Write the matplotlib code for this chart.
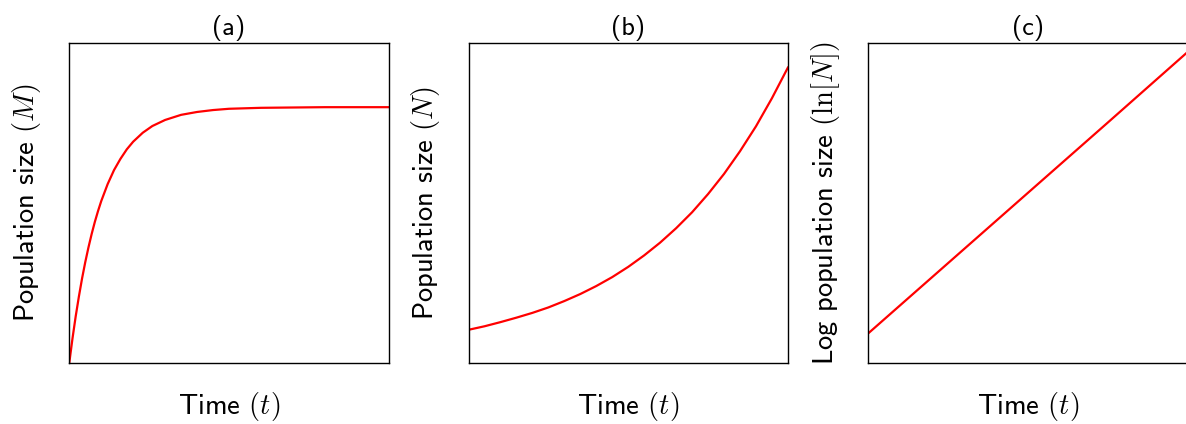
import matplotlib
matplotlib.use("Agg")
import matplotlib.pyplot as plt

plt.rcParams['font.family'] = ['cmss10', 'DejaVu Sans']
plt.rcParams['mathtext.fontset'] = 'cm'
plt.rcParams['axes.unicode_minus'] = False

# (a) saturating growth, M(t)
t_a = [0.0, 0.1, 0.2, 0.3, 0.4, 0.5, 0.6, 0.7, 0.8, 0.9, 1.0, 1.2, 1.4, 1.6,
       1.8, 2.0, 2.3, 2.6, 3.0, 3.5, 4.0, 4.5, 5.0, 6.0, 7.0, 8.0, 10.0]
m_a = [0.0, 0.76, 1.45, 2.07, 2.64, 3.15, 3.61, 4.03, 4.41, 4.75, 5.06, 5.59,
       6.03, 6.38, 6.68, 6.92, 7.20, 7.41, 7.60, 7.76, 7.85, 7.91, 7.95, 7.98,
       7.99, 8.00, 8.00]

# (b) exponential growth, N(t)
t_b = [0.0, 0.5, 1.0, 1.5, 2.0, 2.5, 3.0, 3.5, 4.0, 4.5, 5.0, 5.5, 6.0, 6.5,
       7.0, 7.5, 8.0, 8.5, 9.0, 9.5, 10.0]
n_b = [1.03, 1.14, 1.27, 1.41, 1.56, 1.73, 1.93, 2.15, 2.40, 2.68, 3.00, 3.36,
       3.76, 4.21, 4.71, 5.28, 5.91, 6.62, 7.40, 8.28, 9.24]

# (c) log of the same population
t_c = [0.0, 2.5, 5.0, 7.5, 10.0]
ln_c = [0.92, 3.12, 5.32, 7.52, 9.73]

panels = [
    ("(a)", t_a, m_a, r"Population size $(M)$"),
    ("(b)", t_b, n_b, r"Population size $(N)$"),
    ("(c)", t_c, ln_c, r"Log population size $(\ln[N])$"),
]

W, H = 1186, 424
fig = plt.figure(figsize=(W / 100, H / 100), dpi=100)
lefts = [69.3, 468.5, 868.3]
ax_w, ax_h, ax_bottom = 319.4, 319.4, 424 - 362.7

for left, (title, x, y, ylabel) in zip(lefts, panels):
    ax = fig.add_axes([left / W, ax_bottom / H, ax_w / W, ax_h / H])
    ax.plot(x, y, color='red', lw=1.6, solid_joinstyle='round')
    ax.set_xlim(0, 10)
    ax.set_ylim(0, 10)
    ax.set_xticks([])
    ax.set_yticks([])
    for sp in ax.spines.values():
        sp.set_color('black')
        sp.set_linewidth(1.0)
    ax.set_title(title, fontsize=19, pad=6)
    ax.set_xlabel(r"Time $(t)$", fontsize=20.5, labelpad=20)
    ax.set_ylabel(ylabel, fontsize=20.5, labelpad=19)

fig.savefig("out.png", dpi=100)
